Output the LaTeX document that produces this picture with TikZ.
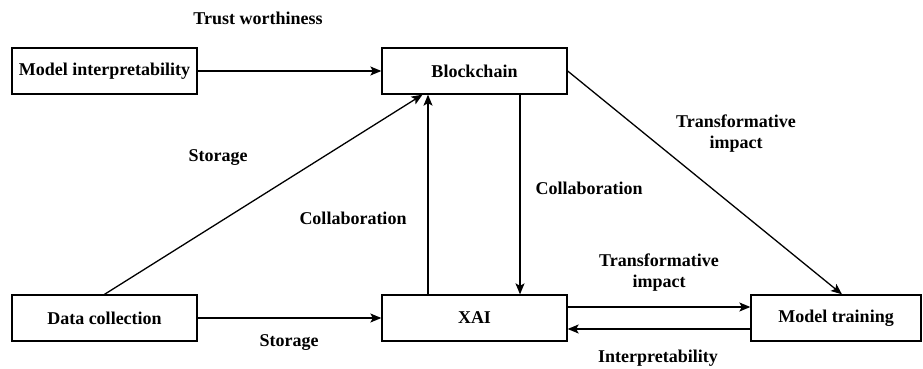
\documentclass[tikz,border=0pt]{standalone}
\usepackage{fontspec}
\setmainfont{Liberation Serif}
\usetikzlibrary{arrows.meta,calc}
\begin{document}
\begin{tikzpicture}[x=1pt,y=-1pt,
  every node/.style={font=\fontsize{18}{21}\selectfont\bfseries, inner sep=0pt},
  box/.style={draw, line width=1.3pt, minimum height=46pt, anchor=center},
  lbl/.style={align=center},
  conn/.style={line width=1.3pt},
  arr/.style={conn, -{Stealth[length=11pt,width=9pt,inset=2.5pt]}}]
  \useasboundingbox (0,0) rectangle (923,369);

  % boxes
  \node[box, minimum width=185pt] (mi) at (104.5,71) {Model interpretability};
  \node[box, minimum width=185pt] (bc) at (474.5,71) {Blockchain};
  \node[box, minimum width=185pt] (dc) at (104.5,318) {Data collection};
  \node[box, minimum width=185pt] (xai) at (474.5,318) {XAI};
  \node[box, minimum width=170pt] (mt) at (836,318) {Model training};

  % connectors
  \draw[arr] (mi.east) -- (bc.west);
  \draw[arr] (dc.north) -- ([xshift=-52pt]bc.south);
  \draw[arr] ([xshift=-46.5pt]xai.north) -- ([xshift=-46.5pt]bc.south);
  \draw[arr] ([xshift=45.5pt]bc.south) -- ([xshift=45.5pt]xai.north);
  \draw[arr] (bc.east) -- ([xshift=6pt]mt.north);
  \draw[arr] (dc.east) -- (xai.west);
  \draw[arr] ([yshift=11pt]xai.east) -- ([yshift=11pt]mt.west);
  \draw[arr] ([yshift=-11pt]mt.west) -- ([yshift=-11pt]xai.east);

  % labels
  \node[lbl] (l1) at (258,18) {Trust worthiness};
  \node[lbl] (l2) at (218,158) {Storage};
  \node[lbl] (l3) at (353,218) {Collaboration};
  \node[lbl] (l4) at (589,188) {Collaboration};
  \node[lbl] (l5) at (736,134) {Transformative\\impact};
  \node[lbl] (l6) at (659,273) {Transformative\\impact};
  \node[lbl] (l7) at (289,343) {Storage};
  \node[lbl] (l8) at (658,358) {Interpretability};
\end{tikzpicture}
\end{document}
